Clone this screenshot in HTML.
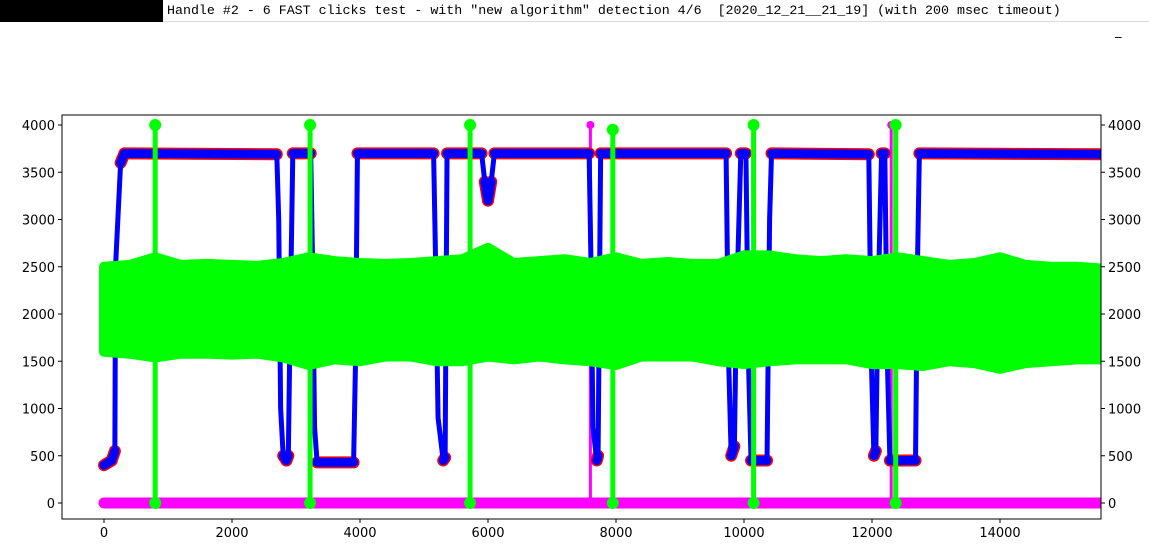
<!DOCTYPE html>
<html><head><meta charset="utf-8"><style>
body{margin:0;width:1149px;height:553px;background:#fff;overflow:hidden;position:relative;font-family:"DejaVu Sans","Liberation Sans",sans-serif}
#blk{position:absolute;left:0;top:0;width:163px;height:22px;background:#000}
#tbar{position:absolute;left:163px;top:0;width:986px;height:22px;background:#fff;border-bottom:1px solid #ddd;font-family:"Liberation Mono",monospace;font-size:13.3px;line-height:22px;padding-left:4px;box-sizing:border-box;white-space:pre}
#min{position:absolute;left:1115px;top:24px;font-size:13px}
svg{position:absolute;left:0;top:0}
</style></head><body>
<div id="blk"></div>
<div id="tbar">Handle #2 - 6 FAST clicks test - with "new algorithm" detection 4/6  [2020_12_21__21_19] (with 200 msec timeout)</div>
<div id="min">_</div>
<svg id="chart" width="1149" height="553"></svg>
<script>
const xTicks=[0,2000,4000,6000,8000,10000,12000,14000];
const yTicks=[0,500,1000,1500,2000,2500,3000,3500,4000];
const sigX=[0,120,170,180,260,320,2700,2730,2760,2800,2850,2880,2900,2950,3230,3260,3290,3330,3900,3930,3960,5150,5180,5220,5300,5330,5360,5900,5950,6000,6050,6100,7580,7610,7640,7700,7720,7760,9720,9760,9800,9850,9880,9950,10030,10070,10110,10360,10400,10430,11950,11990,12030,12060,12090,12150,12200,12240,12280,12680,12710,12740,15620];
const sigY=[400,450,550,2500,3600,3700,3690,3000,1000,500,450,500,1500,3700,3700,2500,800,430,430,1500,3700,3700,2600,900,450,480,3700,3700,3400,3200,3400,3700,3700,2500,800,450,500,3700,3700,1500,500,600,2000,3700,3700,1500,450,450,3000,3700,3690,1500,500,550,2000,3700,3700,1500,450,450,2500,3700,3690];
const bandX=[0,400,800,1200,1600,2000,2400,2800,3200,3600,4000,4400,4800,5200,5600,6000,6400,6800,7200,7600,8000,8400,8800,9200,9600,10000,10400,10800,11200,11600,12000,12400,12800,13200,13600,14000,14400,14800,15200,15620];
const bandHi=[2500,2520,2600,2520,2530,2520,2510,2540,2600,2560,2540,2530,2540,2560,2580,2700,2540,2560,2580,2540,2600,2530,2550,2530,2530,2620,2620,2580,2560,2580,2560,2600,2560,2520,2540,2600,2520,2500,2500,2480];
const bandLo=[1600,1580,1540,1580,1580,1570,1580,1540,1460,1520,1500,1550,1550,1500,1500,1550,1520,1550,1520,1500,1460,1550,1550,1550,1500,1470,1500,1520,1520,1520,1470,1470,1450,1500,1480,1420,1480,1500,1520,1520];
const spikeX=[800,3220,5720,7950,10150,12370];
const spikeHi=[4000,4000,4000,3950,4000,4000];
const spikeLo=[0,0,0,0,0,0];
const magX=[7600,12300];
const magHi=[4000,4000];
const xMax=15620;
const L=62,R=1101,T=115,B=519;
const sx=v=>104+v*0.064;
const sy=v=>503-v*0.0945;
const svg=document.getElementById('chart');
const NS='http://www.w3.org/2000/svg';
function mk(t,a,p){const e=document.createElementNS(NS,t);for(const k in a)e.setAttribute(k,a[k]);(p||svg).appendChild(e);return e;}
const clip=mk('clipPath',{id:'c'});mk('rect',{x:L,y:T,width:R-L,height:B-T},clip);
const g=mk('g',{'clip-path':'url(#c)'});
const base=mk('line',{x1:sx(0),y1:sy(0),x2:sx(xMax),y2:sy(0),stroke:'#ff00ff','stroke-width':11,'stroke-linecap':'round'},g);


magX.forEach((x,i)=>{const l=mk('line',{x1:sx(x),y1:sy(0),x2:sx(x),y2:sy(magHi[i]),stroke:'#ff00ff','stroke-width':3},g);


mk('circle',{cx:sx(x),cy:sy(magHi[i]),r:4,fill:'#ff00ff'},g);});
const pts=sigX.map((x,i)=>sx(x)+','+sy(sigY[i])).join(' ');
const plat=[];
for(let i=0;i<sigX.length-1;i++){if(Math.abs(sigY[i+1]-sigY[i])<300)plat.push(i);}
plat.forEach(i=>{mk('line',{x1:sx(sigX[i]),y1:sy(sigY[i]),x2:sx(sigX[i+1]),y2:sy(sigY[i+1]),stroke:'#ff0000','stroke-width':12,'stroke-linecap':'round'},g);});
const blue=mk('polyline',{points:pts,fill:'none',stroke:'#0000ff','stroke-width':5,'stroke-linejoin':'round'},g);


plat.forEach(i=>{const l=mk('line',{x1:sx(sigX[i]),y1:sy(sigY[i]),x2:sx(sigX[i+1]),y2:sy(sigY[i+1]),stroke:'#0000ff','stroke-width':9,'stroke-linecap':'round'},g);

});
let bp=bandX.map((x,i)=>sx(x)+','+sy(bandHi[i]));
for(let i=bandX.length-1;i>=0;i--)bp.push(sx(bandX[i])+','+sy(bandLo[i]));
const band=mk('polygon',{points:bp.join(' '),fill:'#00ff00',stroke:'#00ff00','stroke-width':10,'stroke-linejoin':'round'},g);


spikeX.forEach((x,i)=>{const l=mk('line',{x1:sx(x),y1:sy(spikeLo[i]),x2:sx(x),y2:sy(spikeHi[i]),stroke:'#00ff00','stroke-width':5},g);


mk('circle',{cx:sx(x),cy:sy(spikeHi[i]),r:6,fill:'#00ff00'},g);
mk('circle',{cx:sx(x),cy:sy(spikeLo[i]),r:6,fill:'#00ff00'},g);});
const fr=mk('rect',{x:L,y:T,width:R-L,height:B-T,fill:'none',stroke:'#000','stroke-width':1});


xTicks.forEach(v=>{mk('line',{x1:sx(v),y1:B,x2:sx(v),y2:B+4,stroke:'#000'});
const t=mk('text',{x:sx(v),y:B+18,'text-anchor':'middle','font-size':13});t.textContent=v;

});
yTicks.forEach(v=>{mk('line',{x1:L-4,y1:sy(v),x2:L,y2:sy(v),stroke:'#000'});
mk('line',{x1:R,y1:sy(v),x2:R+4,y2:sy(v),stroke:'#000'});
const t=mk('text',{x:L-7,y:sy(v)+5,'text-anchor':'end','font-size':13});t.textContent=v;


const t2=mk('text',{x:R+7,y:sy(v)+5,'text-anchor':'start','font-size':13});t2.textContent=v;

});
</script>
</body></html>
